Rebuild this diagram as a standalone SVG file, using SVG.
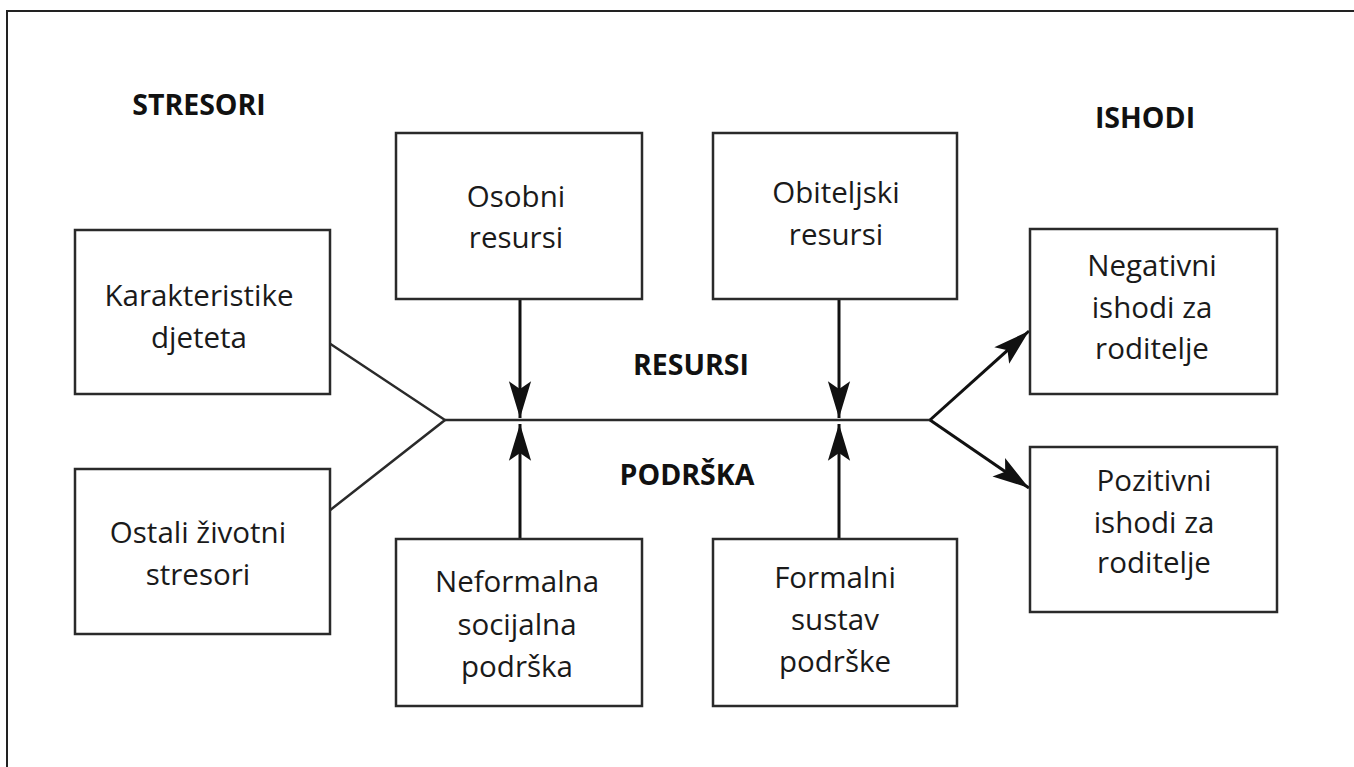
<svg xmlns="http://www.w3.org/2000/svg" width="1354" height="767" viewBox="0 0 1354 767">
<style>
.box{fill:#fff;stroke:#2a2a2a;stroke-width:2.5}
.t{font-family:"Open Sans","Noto Sans",sans-serif;font-size:29.5px;fill:#1a1a1a;text-anchor:middle}
.h{font-family:"Open Sans","Noto Sans",sans-serif;font-size:28.5px;font-weight:bold;fill:#111;text-anchor:middle}
.ln{stroke:#2a2a2a;stroke-width:2.5;fill:none}
.ar{stroke:#111;stroke-width:3;fill:none}
</style>
<defs>
<marker id="ah" markerUnits="userSpaceOnUse" markerWidth="40" markerHeight="30" viewBox="-34 -12 36 24" refX="0" refY="0" orient="auto">
<path d="M0,0 L-33,-10 L-26,0 L-33,10 Z" fill="#111"/>
</marker>
</defs>
<rect width="1354" height="767" fill="#fff"/>
<path d="M7,767 V11 H1354" fill="none" stroke="#222" stroke-width="2"/>
<g id="labels">
<text class="h" x="199" y="115">STRESORI</text>
<text class="h" x="1145" y="128">ISHODI</text>
<text class="h" x="691" y="375">RESURSI</text>
<text class="h" x="687" y="485">PODRŠKA</text>
</g>
<g id="connectors">
<path class="ln" d="M445,420 H930"/>
<path class="ln" d="M329,343 L445,420 L329,511"/>
<path class="ar" d="M930,420 L1029,331" marker-end="url(#ah)"/>
<path class="ar" d="M930,420 L1029,488" marker-end="url(#ah)"/>
<path class="ar" d="M520,299 V418" marker-end="url(#ah)"/>
<path class="ar" d="M520,539 V424" marker-end="url(#ah)"/>
<path class="ar" d="M839,299 V418" marker-end="url(#ah)"/>
<path class="ar" d="M839,539 V424" marker-end="url(#ah)"/>
</g>
<g id="n-karakteristike">
<rect class="box" x="75" y="230" width="255" height="164"/>
<text class="t" x="199" y="306">Karakteristike</text>
<text class="t" x="199" y="348">djeteta</text>
</g>
<g id="n-ostali">
<rect class="box" x="75" y="469" width="255" height="165"/>
<text class="t" x="198" y="543">Ostali životni</text>
<text class="t" x="198" y="585">stresori</text>
</g>
<g id="n-osobni">
<rect class="box" x="396" y="133" width="246" height="166"/>
<text class="t" x="516" y="207">Osobni</text>
<text class="t" x="516" y="248">resursi</text>
</g>
<g id="n-obiteljski">
<rect class="box" x="713" y="133" width="244" height="166"/>
<text class="t" x="836" y="203">Obiteljski</text>
<text class="t" x="836" y="245">resursi</text>
</g>
<g id="n-neformalna">
<rect class="box" x="396" y="539" width="246" height="167"/>
<text class="t" x="517" y="592">Neformalna</text>
<text class="t" x="517" y="635">socijalna</text>
<text class="t" x="517" y="677">podrška</text>
</g>
<g id="n-formalni">
<rect class="box" x="713" y="539" width="244" height="167"/>
<text class="t" x="835" y="588">Formalni</text>
<text class="t" x="835" y="630">sustav</text>
<text class="t" x="835" y="672">podrške</text>
</g>
<g id="n-negativni">
<rect class="box" x="1030" y="229" width="247" height="165"/>
<text class="t" x="1152" y="276">Negativni</text>
<text class="t" x="1152" y="318">ishodi za</text>
<text class="t" x="1152" y="359">roditelje</text>
</g>
<g id="n-pozitivni">
<rect class="box" x="1030" y="447" width="247" height="165"/>
<text class="t" x="1154" y="491">Pozitivni</text>
<text class="t" x="1154" y="533">ishodi za</text>
<text class="t" x="1154" y="573">roditelje</text>
</g>
</svg>
